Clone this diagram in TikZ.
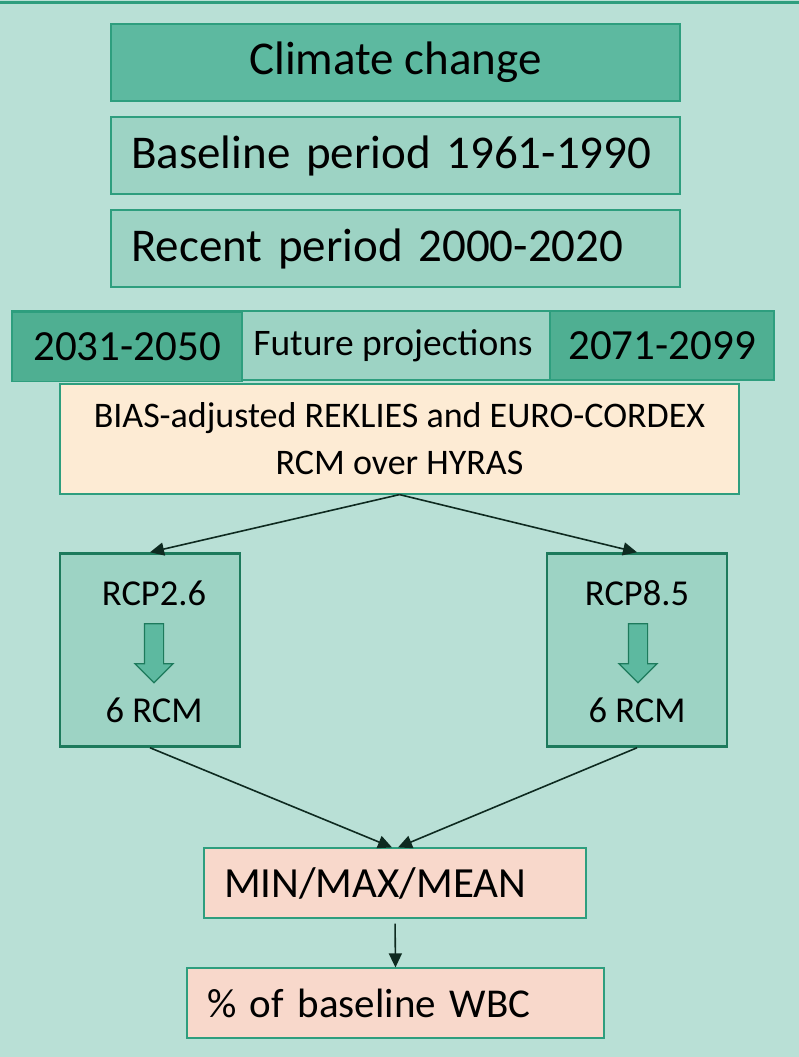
\documentclass[tikz,border=0pt]{standalone}
\usepackage{fontspec}
\setmainfont{Carlito}
\usetikzlibrary{positioning,arrows.meta,shapes.arrows}
\definecolor{wbcbg}{HTML}{B9E0D6}
\definecolor{wbcdark}{HTML}{5DB9A0}
\definecolor{wbclight}{HTML}{9DD3C4}
\definecolor{wbcdeep}{HTML}{4FAF92}
\definecolor{wbcedge}{HTML}{2E9E7E}
\definecolor{wbcrim}{HTML}{1D7A5C}
\definecolor{wbccream}{HTML}{FDEBD4}
\definecolor{wbcsalmon}{HTML}{F8D8CB}
\definecolor{wbcarrow}{HTML}{0E2A20}
\tikzset{
  topb/.style={draw=wbcedge, fill=wbcdark, line width=1.2pt, minimum width=569pt,
    minimum height=77pt, font=\fontsize{47}{54}\selectfont},
  perb/.style={draw=wbcedge, fill=wbclight, line width=1.2pt, text width=529pt,
    inner xsep=20pt, inner ysep=0pt, minimum height=77pt, align=left,
    font=\fontsize{47}{54}\selectfont},
  futb/.style={draw=wbcedge, fill=wbclight, line width=1.2pt, minimum width=762pt,
    minimum height=69pt, font=\fontsize{37.5}{44}\selectfont},
  yrb/.style={draw=wbcedge, fill=wbcdeep, line width=1.2pt, minimum height=69pt,
    font=\fontsize{43}{50}\selectfont},
  biasb/.style={draw=wbcedge, fill=wbccream, line width=1.2pt, minimum width=679pt,
    minimum height=110pt, align=center, font=\fontsize{36}{47}\selectfont},
  rcpb/.style={draw=wbcrim, fill=wbclight, line width=2.5pt, minimum width=180pt,
    minimum height=193pt},
  rcpt/.style={font=\fontsize{36.5}{42}\selectfont, inner sep=0pt, anchor=base},
  blk/.style={single arrow, shape border rotate=270, draw=wbcrim, fill=wbcdark,
    line width=1.2pt, inner sep=9pt, minimum height=59pt, single arrow head extend=9.5pt,
    single arrow head indent=0pt},
  resb/.style={draw=wbcedge, fill=wbcsalmon, line width=1.2pt, inner xsep=20pt,
    inner ysep=0pt, minimum height=70pt, align=left},
  flow/.style={-{Triangle[length=14pt,width=13pt]}, line width=1.6pt, draw=wbcarrow},
}
\begin{document}
\begin{tikzpicture}[x=1pt, y=-1pt]
    \useasboundingbox (0,0) rectangle (799,1057);
    % backdrop
    \fill[wbcbg] (0,0) rectangle (799,1057);
    \draw[wbcedge, line width=3pt] (0,3) -- (799,3);
    % periods
    \node[topb] (clim) at (395.5,62.5) {Climate change};
    \node[perb] (base) at (395.5,155.5) {Baseline period 1961-1990};
    \node[perb] (rec) at (395.5,248.5) {Recent period 2000-2020};
    % future projections
    \node[futb] (fut) at (393,345.5) {Future projections};
    \node[yrb, minimum width=230pt] (near) at (127,347) {2031-2050};
    \node[yrb, minimum width=224pt] (far) at (662,345.5) {2071-2099};
    \node[biasb] (bias) at (399.5,439)
      {BIAS-adjusted REKLIES and EURO-CORDEX\\RCM over HYRAS};
    % scenarios
    \node[rcpb] (low) at (150,650) {};
    \node[rcpb] (high) at (637,650) {};
    \node[rcpt] (lowname) at (154,605) {RCP2.6};
    \node[blk] (lowarr) at (154,648.5) {};
    \node[rcpt] (lowrcm) at (154,722) {6 RCM};
    \node[rcpt] (highname) at (637,605) {RCP8.5};
    \node[blk] (higharr) at (638,648.5) {};
    \node[rcpt] (highrcm) at (637,722) {6 RCM};
    % results
    \node[resb, text width=342pt, font=\fontsize{43}{50}\selectfont] (stat) at (395,883) {MIN/MAX/MEAN};
    \node[resb, text width=377pt, font=\fontsize{41}{48}\selectfont] (wbc) at (395.5,1003) {\% of baseline WBC};
    \draw[flow] (bias.south) -- (low.north);
    \draw[flow] (bias.south) -- (high.north);
    \draw[flow] (low.south) -- ([xshift=-3pt]stat.north);
    \draw[flow] (high.south) -- ([xshift=3pt]stat.north);
    \draw[flow, shorten <=5pt] (stat.south) -- (wbc.north);
\end{tikzpicture}
\end{document}
